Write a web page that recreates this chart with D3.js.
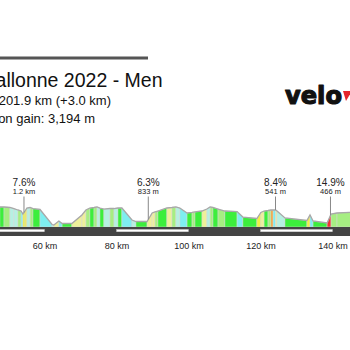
<!DOCTYPE html>
<html>
<head>
<meta charset="utf-8">
<script src="https://cdn.jsdelivr.net/npm/d3@7"></script>
<style>
  html, body { margin: 0; padding: 0; background: #fff; }
  svg { display: block; }
</style>
</head>
<body>
<script>
// Route profile: boundary distances (km) and elevations (m)
const routeKm = [45.4, 47.6, 48.75, 50.4, 51.5, 52.6, 53.5, 54.0, 54.6, 55.1, 56.0, 56.8, 58.75,
  62.1, 62.6, 64.0, 64.9, 67.6, 70.4, 71.5, 72.6, 73.75, 74.6, 75.4, 76.5, 78.2, 79.3, 80.4, 81.5,
  84.3, 85.4, 88.5, 89.9, 90.7, 91.5, 94.0, 95.4, 96.5, 97.6, 99.6, 101.0, 101.8, 103.75, 105.1,
  106.0, 106.8, 108.2, 110.1, 113.5, 115.1, 119.0, 120.1, 121.0, 122.1, 122.9, 123.5, 124.2,
  124.6, 126.8, 132.9, 133.75, 134.6, 138.5, 139.6, 141.25, 146.5];
const routeElev = [333, 333, 333, 326, 312, 292, 278, 237, 278, 319, 326, 312, 299,
  94, 87, 142, 108, 108, 224, 292, 319, 326, 333, 319, 305, 312, 312, 319, 319,
  155, 135, 135, 251, 265, 278, 319, 326, 333, 319, 251, 258, 265, 278, 305,
  333, 326, 305, 278, 271, 196, 176, 258, 278, 285, 292, 292, 292,
  278, 183, 149, 224, 142, 115, 237, 251, 265];
// Gradient (%) of each stretch between two boundaries
const segGrade = [0, 0, 2, -2.5, -2.5, 2, -5, 7, 6, -2, 2, 0, -5, -2, 4, -5, 0, 4, 4, 2, 0, 2, -2, 0,
  -2, 2, -2, 0, -5, -2, 0, 4, 4, 2, 0, 4, 2, -2, -5, 0, 2, 0, 4, -2, 2, 0, 2, 0, -5, 0, 6, 4, 0, 2,
  9, -5, 4, -2, 0, 6, -5, 0, 12, 2, 2];

// Categorised climbs
const climbKm = [54.3, 88.83, 124.17, 139.44];
const climbGrade = ["7.6%", "6.3%", "8.4%", "14.9%"];
const climbLength = ["1.2 km", "833 m", "541 m", "466 m"];

// Distance axis
const tickKm = [60, 80, 100, 120, 140];
const routeLength = 201.9;

// Header
const titleText = "La Flèche Wallonne 2022 - Men";
const distanceText = "Distance: 201.9 km (+3.0 km)";
const gainText = "Elevation gain: 3,194 m";

const W = 350, H = 350;
const svg = d3.select("body").append("svg").attr("width", W).attr("height", H);

const x = d3.scaleLinear().domain([0, routeLength]).range([-171.5, -171.5 + routeLength * 3.6]);
const y = d3.scaleLinear().domain([60, 360]).range([227, 205]);
const gradeColor = d3.scaleThreshold()
  .domain([-4, -1.5, 1, 3, 5, 8, 11])
  .range(["#7eeef0", "#b6f0e2", "#3cee3c", "#a6ee82", "#eef09a", "#f0f044", "#f7a030", "#ee3232"]);

const font = "'Liberation Sans', Arial, sans-serif";

// header rule
svg.append("line").attr("x1", 0).attr("x2", 148).attr("y1", 58).attr("y2", 58)
  .attr("stroke", "#555").attr("stroke-width", 2.8);

svg.append("text").attr("x", 162.5).attr("y", 87).attr("text-anchor", "end")
  .attr("font-family", font).attr("font-size", 19.5).attr("fill", "#111").text(titleText);
svg.append("text").attr("x", 111).attr("y", 104.5).attr("text-anchor", "end")
  .attr("font-family", font).attr("font-size", 13).attr("fill", "#111").text(distanceText);
svg.append("text").attr("x", 95).attr("y", 122.5).attr("text-anchor", "end")
  .attr("font-family", font).attr("font-size", 13).attr("fill", "#111").text(gainText);

// brand mark
svg.append("text").attr("x", 285).attr("y", 104)
  .attr("font-family", "'DejaVu Sans', sans-serif").attr("font-weight", "bold")
  .attr("font-size", 25).attr("textLength", 57).attr("lengthAdjust", "spacingAndGlyphs")
  .attr("fill", "#111").attr("stroke", "#111").attr("stroke-width", 1.2)
  .attr("stroke-linejoin", "round").text("velo");
svg.append("polygon").attr("points", "343,91 352,91 346,101").attr("fill", "#e4252d");

// profile segments
const segs = segGrade.map((g, i) => ({
  k0: routeKm[i], k1: routeKm[i + 1], e0: routeElev[i], e1: routeElev[i + 1], g
}));
const base = y.range()[0];
svg.append("g").selectAll("path").data(segs).join("path")
  .attr("d", d => `M${x(d.k0)},${base}L${x(d.k0)},${y(d.e0)}L${x(d.k1)},${y(d.e1)}L${x(d.k1)},${base}Z`)
  .attr("fill", d => gradeColor(d.g))
  .attr("stroke", "#d6d6d6").attr("stroke-width", 0.5);

// top outline
const line = d3.line().x(d => x(d[0])).y(d => y(d[1]));
svg.append("path").attr("d", line(d3.zip(routeKm, routeElev)))
  .attr("fill", "none").attr("stroke", "#a8a8a8").attr("stroke-width", 1.3);

// distance band
svg.append("rect").attr("x", 0).attr("y", 227).attr("width", W).attr("height", 9).attr("fill", "#444");
svg.append("g").selectAll("rect").data(d3.range(0, routeLength, 40)).join("rect")
  .attr("x", d => x(d)).attr("y", 229.4)
  .attr("width", d => x(Math.min(d + 20, routeLength)) - x(d)).attr("height", 2.4)
  .attr("fill", "#fff").attr("stroke", "#bbb").attr("stroke-width", 0.4);

// axis labels
const axis = d3.axisBottom(x).tickValues(tickKm).tickSize(0).tickFormat(d => d + " km");
const ag = svg.append("g").attr("transform", "translate(0,240)").call(axis);
ag.select(".domain").remove();
ag.selectAll("text").attr("font-family", font).attr("font-size", 9).attr("fill", "#222").attr("dy", "0.71em");

// climb markers
const elevAt = k => {
  const i = d3.bisectRight(routeKm, k) - 1;
  const t = (k - routeKm[i]) / (routeKm[i + 1] - routeKm[i]);
  return routeElev[i] + t * (routeElev[i + 1] - routeElev[i]);
};
const cg = svg.append("g").selectAll("g").data(climbKm).join("g");
cg.append("line").attr("x1", d => x(d)).attr("x2", d => x(d))
  .attr("y1", 196.5).attr("y2", d => y(elevAt(d)))
  .attr("stroke", "#888").attr("stroke-width", 1);
cg.append("text").attr("x", d => x(d)).attr("y", 185.7).attr("text-anchor", "middle")
  .attr("font-family", font).attr("font-size", 10).attr("fill", "#222")
  .text((d, i) => climbGrade[i]);
cg.append("text").attr("x", d => x(d)).attr("y", 194.2).attr("text-anchor", "middle")
  .attr("font-family", font).attr("font-size", 7.5).attr("fill", "#222")
  .text((d, i) => climbLength[i]);
</script>
</body>
</html>
